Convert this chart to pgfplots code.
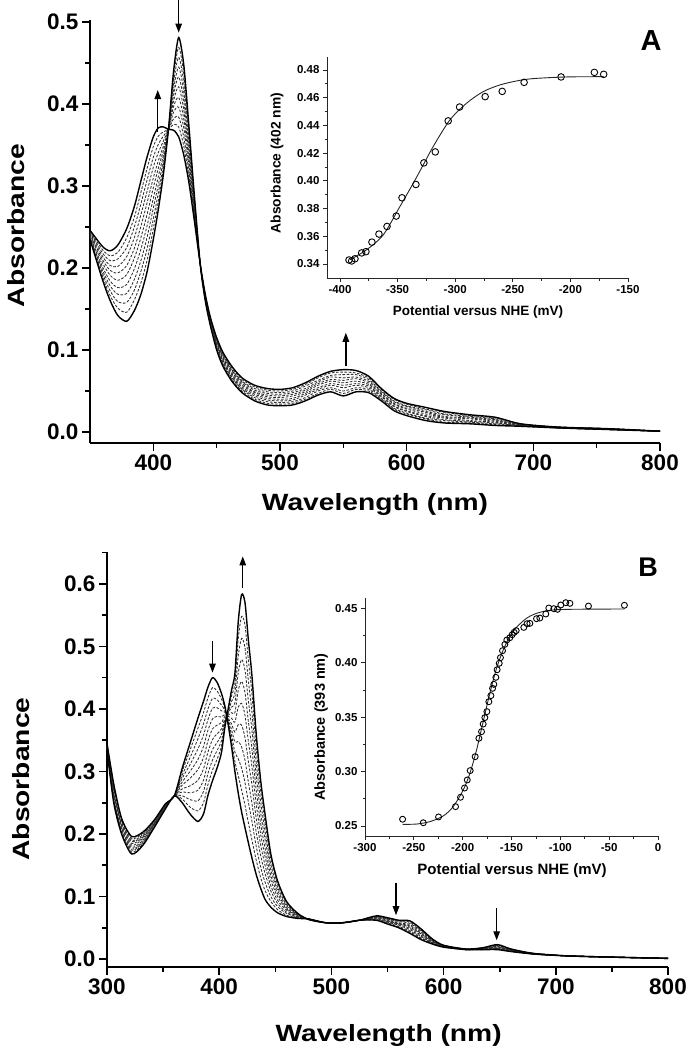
\documentclass[border=0pt]{standalone}
\usepackage{fontspec}
\setmainfont{Liberation Sans}
\newfontfamily\labfont[FakeStretch=1.2]{Liberation Sans}
\usepackage{pgfplots}
\pgfplotsset{compat=1.18}
\usepackage{pgfplotstable}
\usetikzlibrary{arrows.meta}

\pgfplotstableread{
w c0 c1 c2 c3 c4 c5 c6 c7 c8 c9 c10
350 0.235 0.236 0.237 0.238 0.239 0.241 0.242 0.243 0.244 0.245 0.246
360 0.185 0.189 0.193 0.197 0.201 0.206 0.210 0.214 0.218 0.222 0.226
366 0.160 0.166 0.172 0.178 0.184 0.191 0.197 0.203 0.209 0.215 0.221
372 0.142 0.151 0.159 0.168 0.176 0.185 0.194 0.202 0.211 0.219 0.228
379 0.135 0.146 0.158 0.169 0.180 0.192 0.203 0.214 0.225 0.237 0.248
385 0.148 0.161 0.173 0.186 0.199 0.212 0.224 0.237 0.250 0.262 0.275
390 0.167 0.181 0.195 0.208 0.222 0.236 0.250 0.264 0.277 0.291 0.305
395 0.195 0.209 0.223 0.237 0.251 0.265 0.279 0.293 0.307 0.321 0.335
400 0.235 0.248 0.260 0.273 0.285 0.298 0.310 0.323 0.335 0.348 0.360
404 0.272 0.282 0.292 0.302 0.312 0.322 0.331 0.341 0.351 0.361 0.371
408 0.315 0.321 0.326 0.332 0.338 0.344 0.349 0.355 0.361 0.366 0.372
412 0.370 0.370 0.370 0.370 0.370 0.369 0.369 0.369 0.369 0.369 0.369
416 0.440 0.433 0.426 0.418 0.411 0.404 0.397 0.390 0.382 0.375 0.368
420 0.481 0.469 0.457 0.445 0.433 0.421 0.408 0.396 0.384 0.372 0.360
424 0.448 0.437 0.426 0.415 0.404 0.393 0.382 0.371 0.360 0.349 0.338
428 0.375 0.368 0.361 0.354 0.347 0.340 0.333 0.326 0.319 0.312 0.305
432 0.296 0.293 0.289 0.286 0.282 0.279 0.276 0.272 0.269 0.265 0.262
437 0.205 0.205 0.205 0.205 0.205 0.205 0.205 0.205 0.205 0.205 0.205
441 0.160 0.161 0.162 0.162 0.163 0.164 0.165 0.166 0.166 0.167 0.168
445 0.130 0.131 0.132 0.133 0.134 0.135 0.136 0.137 0.138 0.139 0.140
450 0.100 0.102 0.103 0.105 0.106 0.108 0.109 0.111 0.112 0.114 0.115
455 0.080 0.082 0.083 0.085 0.087 0.089 0.090 0.092 0.094 0.095 0.097
462 0.062 0.064 0.066 0.067 0.069 0.071 0.073 0.075 0.076 0.078 0.080
470 0.048 0.050 0.052 0.053 0.055 0.057 0.059 0.061 0.062 0.064 0.066
480 0.038 0.040 0.042 0.044 0.046 0.048 0.049 0.051 0.053 0.055 0.057
490 0.033 0.035 0.037 0.039 0.041 0.043 0.045 0.047 0.049 0.051 0.053
500 0.032 0.034 0.036 0.038 0.040 0.042 0.044 0.046 0.048 0.050 0.052
510 0.033 0.035 0.037 0.039 0.041 0.044 0.046 0.048 0.050 0.052 0.054
520 0.038 0.040 0.042 0.045 0.047 0.049 0.051 0.053 0.056 0.058 0.060
530 0.045 0.047 0.050 0.052 0.054 0.057 0.059 0.061 0.063 0.066 0.068
540 0.049 0.052 0.054 0.057 0.059 0.062 0.064 0.067 0.069 0.072 0.074
550 0.044 0.047 0.050 0.054 0.057 0.060 0.063 0.066 0.070 0.073 0.076
560 0.049 0.052 0.054 0.057 0.059 0.062 0.065 0.067 0.070 0.072 0.075
570 0.048 0.050 0.052 0.054 0.056 0.058 0.060 0.062 0.064 0.066 0.068
580 0.038 0.040 0.041 0.043 0.044 0.046 0.047 0.049 0.050 0.052 0.053
590 0.026 0.028 0.029 0.031 0.032 0.034 0.035 0.037 0.038 0.040 0.041
600 0.020 0.022 0.023 0.025 0.026 0.028 0.029 0.031 0.032 0.034 0.035
615 0.014 0.016 0.017 0.019 0.020 0.022 0.024 0.025 0.027 0.028 0.030
630 0.011 0.012 0.014 0.015 0.017 0.018 0.019 0.021 0.022 0.024 0.025
650 0.010 0.011 0.012 0.013 0.014 0.016 0.017 0.018 0.019 0.020 0.021
670 0.008 0.009 0.010 0.011 0.012 0.013 0.014 0.015 0.016 0.017 0.018
690 0.007 0.007 0.008 0.008 0.008 0.009 0.009 0.009 0.009 0.010 0.010
720 0.005 0.005 0.005 0.005 0.005 0.005 0.006 0.006 0.006 0.006 0.006
760 0.003 0.003 0.003 0.003 0.003 0.003 0.004 0.004 0.004 0.004 0.004
800 0.001 0.001 0.001 0.001 0.001 0.001 0.001 0.001 0.001 0.001 0.001
}\tabA

\pgfplotstableread{
w c0 c1 c2 c3 c4 c5 c6 c7 c8 c9 c10
300 0.335 0.336 0.337 0.338 0.339 0.340 0.341 0.342 0.343 0.344 0.345
306 0.250 0.253 0.256 0.259 0.262 0.265 0.268 0.271 0.274 0.277 0.280
313 0.200 0.203 0.205 0.208 0.210 0.213 0.215 0.218 0.220 0.223 0.225
322 0.168 0.171 0.174 0.176 0.179 0.182 0.185 0.188 0.190 0.193 0.196
332 0.182 0.184 0.186 0.188 0.190 0.193 0.195 0.197 0.199 0.201 0.203
342 0.210 0.211 0.212 0.214 0.215 0.216 0.217 0.218 0.220 0.221 0.222
352 0.240 0.241 0.242 0.242 0.243 0.244 0.245 0.246 0.246 0.247 0.248
360 0.261 0.261 0.261 0.261 0.261 0.261 0.261 0.261 0.261 0.261 0.261
367 0.250 0.256 0.261 0.267 0.272 0.278 0.283 0.289 0.294 0.300 0.305
374 0.232 0.243 0.255 0.266 0.277 0.289 0.300 0.311 0.322 0.334 0.345
381 0.220 0.237 0.253 0.270 0.286 0.303 0.319 0.336 0.352 0.369 0.385
386 0.232 0.250 0.268 0.286 0.304 0.322 0.340 0.358 0.376 0.394 0.412
390 0.262 0.279 0.297 0.314 0.331 0.349 0.366 0.383 0.400 0.418 0.435
394 0.285 0.302 0.318 0.335 0.351 0.368 0.384 0.401 0.417 0.434 0.450
398 0.305 0.319 0.333 0.346 0.360 0.374 0.388 0.402 0.415 0.429 0.443
402 0.330 0.340 0.349 0.359 0.368 0.378 0.387 0.397 0.406 0.416 0.425
405 0.370 0.374 0.377 0.381 0.384 0.388 0.391 0.395 0.398 0.402 0.405
408 0.400 0.398 0.395 0.393 0.390 0.388 0.385 0.383 0.380 0.378 0.375
411 0.430 0.421 0.412 0.403 0.394 0.385 0.376 0.367 0.358 0.349 0.340
414 0.457 0.441 0.426 0.410 0.394 0.379 0.363 0.347 0.331 0.316 0.300
417 0.540 0.513 0.485 0.458 0.430 0.403 0.375 0.348 0.320 0.293 0.265
420 0.583 0.548 0.513 0.479 0.444 0.409 0.374 0.339 0.305 0.270 0.235
423 0.570 0.534 0.498 0.462 0.426 0.390 0.354 0.318 0.282 0.246 0.210
426 0.510 0.478 0.445 0.413 0.380 0.348 0.316 0.283 0.251 0.218 0.186
429 0.457 0.428 0.398 0.369 0.339 0.310 0.281 0.251 0.222 0.192 0.163
433 0.360 0.338 0.315 0.293 0.270 0.248 0.225 0.203 0.180 0.158 0.135
437 0.285 0.268 0.251 0.233 0.216 0.199 0.182 0.165 0.147 0.130 0.113
441 0.230 0.217 0.203 0.190 0.176 0.163 0.149 0.136 0.122 0.109 0.095
446 0.168 0.160 0.151 0.143 0.134 0.126 0.117 0.109 0.100 0.092 0.083
452 0.125 0.120 0.115 0.110 0.105 0.100 0.094 0.089 0.084 0.079 0.074
460 0.092 0.090 0.087 0.085 0.082 0.080 0.078 0.075 0.073 0.070 0.068
470 0.073 0.072 0.071 0.071 0.070 0.069 0.068 0.067 0.067 0.066 0.065
480 0.063 0.063 0.063 0.063 0.063 0.064 0.064 0.064 0.064 0.064 0.064
495 0.058 0.058 0.058 0.058 0.058 0.058 0.058 0.058 0.058 0.058 0.058
510 0.058 0.058 0.058 0.058 0.058 0.058 0.058 0.058 0.058 0.058 0.058
525 0.062 0.062 0.062 0.062 0.062 0.062 0.062 0.062 0.062 0.062 0.062
540 0.062 0.063 0.063 0.064 0.065 0.066 0.066 0.067 0.068 0.068 0.069
550 0.056 0.057 0.058 0.059 0.060 0.061 0.062 0.063 0.064 0.065 0.066
560 0.050 0.051 0.052 0.054 0.055 0.056 0.057 0.058 0.060 0.061 0.062
570 0.041 0.043 0.045 0.047 0.049 0.051 0.053 0.055 0.057 0.059 0.061
580 0.031 0.033 0.034 0.036 0.038 0.040 0.041 0.043 0.045 0.046 0.048
590 0.024 0.025 0.026 0.026 0.027 0.028 0.029 0.030 0.030 0.031 0.032
600 0.019 0.019 0.020 0.020 0.020 0.021 0.021 0.021 0.021 0.022 0.022
620 0.015 0.015 0.015 0.015 0.015 0.015 0.016 0.016 0.016 0.016 0.016
635 0.015 0.015 0.016 0.016 0.016 0.017 0.017 0.017 0.017 0.018 0.018
648 0.015 0.016 0.017 0.017 0.018 0.019 0.020 0.021 0.021 0.022 0.023
660 0.012 0.012 0.013 0.013 0.014 0.014 0.014 0.015 0.015 0.016 0.016
680 0.008 0.008 0.008 0.008 0.008 0.008 0.009 0.009 0.009 0.009 0.009
710 0.005 0.005 0.005 0.005 0.005 0.005 0.005 0.005 0.005 0.005 0.005
750 0.003 0.003 0.003 0.003 0.003 0.003 0.003 0.003 0.003 0.003 0.003
800 0.001 0.001 0.001 0.001 0.001 0.001 0.001 0.001 0.001 0.001 0.001
}\tabB

\tikzset{arr/.style={-{Triangle[length=9pt,width=6.5pt]}, line width=1.3pt, black}}
\pgfplotsset{
  mainax/.style={
    scale only axis, axis x line*=bottom, axis y line*=left,
    tick align=outside, clip=false,
    axis line style={line width=1.8pt, black},
    every tick/.style={black, line width=1.6pt},
    major tick length=8pt, minor tick length=4.5pt,
    tick label style={font=\fontsize{22.5}{25}\selectfont\bfseries},
  },
  inax/.style={
    scale only axis, axis x line*=bottom, axis y line*=left,
    tick align=outside, clip=false,
    axis line style={line width=0.9pt, black!85},
    every tick/.style={black!85, line width=0.8pt},
    major tick length=4pt, minor tick length=2.5pt,
    tick label style={font=\fontsize{11.5}{13}\selectfont\bfseries},
  },
  dashline/.style={black!82, line width=0.85pt, dash pattern=on 2.6pt off 1.6pt, smooth, tension=0.45},
  solidline/.style={black, line width=1.4pt, smooth, tension=0.45},
}

\begin{document}
\begin{tikzpicture}
\useasboundingbox (0pt,0pt) rectangle (693pt,-1052pt);

% ---------------- Panel A main ----------------
\begin{axis}[mainax,
  at={(90pt,-443pt)}, anchor=south west,
  width=570pt, height=423.5pt,
  xmin=350, xmax=800, ymin=-0.0134, ymax=0.503,
  xtick={400,500,600,700,800}, xticklabels={400,500,600,700,800},
  minor xtick={450,550,650,750},
  ytick={0,0.1,0.2,0.3,0.4,0.5}, yticklabels={0.0,0.1,0.2,0.3,0.4,0.5},
  minor ytick={0.05,0.15,0.25,0.35,0.45},
  xlabel={Wavelength (nm)}, ylabel={Absorbance},
  every axis x label/.style={at={(axis description cs:0.5,-0.146)}, anchor=center, font=\labfont\fontsize{23.5}{26}\selectfont\bfseries},
  every axis y label/.style={at={(axis description cs:-0.130,0.513)}, anchor=center, rotate=90, font=\labfont\fontsize{23.5}{26}\selectfont\bfseries},
]
\pgfplotsinvokeforeach{1,...,9}{\addplot[dashline] table[x=w,y=c#1]{\tabA};}
\addplot[solidline] table[x=w,y=c0]{\tabA};
\addplot[solidline] table[x=w,y=c10]{\tabA};
\draw[arr] (axis cs:420,0.527) -- (axis cs:420,0.487);
\draw[arr] (axis cs:403.5,0.366) -- (axis cs:403.5,0.417);
\draw[arr] (axis cs:552,0.080) -- (axis cs:552,0.121);
\end{axis}

% ---------------- Panel A inset ----------------
\begin{axis}[inax,
  at={(327pt,-278pt)}, anchor=south west,
  width=301pt, height=221pt,
  xmin=-411.3, xmax=-150, ymin=0.3299, ymax=0.4894,
  xtick={-400,-350,-300,-250,-200,-150}, xticklabels={-400,-350,-300,-250,-200,-150},
  minor xtick={-375,-325,-275,-225,-175},
  ytick={0.34,0.36,0.38,0.40,0.42,0.44,0.46,0.48},
  yticklabels={0.34,0.36,0.38,0.40,0.42,0.44,0.46,0.48},
  minor ytick={0.35,0.37,0.39,0.41,0.43,0.45,0.47},
  xlabel={Potential versus NHE (mV)}, ylabel={Absorbance (402 nm)},
  every axis x label/.style={at={(axis description cs:0.502,-0.154)}, anchor=center, font=\fontsize{13.5}{15}\selectfont\bfseries},
  every axis y label/.style={at={(axis description cs:-0.166,0.52)}, anchor=center, rotate=90, font=\fontsize{13.8}{15}\selectfont\bfseries},
]
\addplot[black!85, line width=0.9pt, smooth] coordinates {
(-391.3,0.3431) (-376.9,0.3503) (-362.4,0.3611) (-348.0,0.3815) (-336.4,0.3983)
(-327.7,0.4116) (-319.1,0.4248) (-304.6,0.4440) (-290.2,0.4560) (-275.7,0.4644)
(-261.3,0.4692) (-246.8,0.4721) (-232.4,0.4738) (-203.5,0.4750) (-171.1,0.4752)};
\addplot[only marks, mark=o, mark size=3.3pt, mark options={line width=0.9pt, black}] coordinates {
(-392.2,0.3429) (-389.9,0.3422) (-387.0,0.3438) (-381.2,0.3480) (-377.5,0.3489)
(-372.3,0.3558) (-366.2,0.3616) (-359.2,0.3671) (-351.2,0.3746) (-346.2,0.3878)
(-334.1,0.3974) (-327.2,0.4130) (-317.3,0.4209) (-306.1,0.4433) (-296.2,0.4533)
(-274.0,0.4608) (-259.2,0.4646) (-240.2,0.4711) (-208.1,0.4750) (-179.2,0.4783)
(-171.1,0.4769)};
\end{axis}

\node[font=\fontsize{29}{32}\selectfont\bfseries] at (651pt,-41pt) {A};

% ---------------- Panel B main ----------------
\begin{axis}[mainax,
  at={(107pt,-967pt)}, anchor=south west,
  width=561pt, height=415pt,
  xmin=300, xmax=800, ymin=-0.0128, ymax=0.651,
  xtick={300,400,500,600,700,800}, xticklabels={300,400,500,600,700,800},
  minor xtick={350,450,550,650,750},
  ytick={0,0.1,0.2,0.3,0.4,0.5,0.6}, yticklabels={0.0,0.1,0.2,0.3,0.4,0.5,0.6},
  minor ytick={0.05,0.15,0.25,0.35,0.45,0.55,0.65},
  xlabel={Wavelength (nm)}, ylabel={Absorbance},
  every axis x label/.style={at={(axis description cs:0.502,-0.164)}, anchor=center, font=\labfont\fontsize{23.5}{26}\selectfont\bfseries},
  every axis y label/.style={at={(axis description cs:-0.153,0.453)}, anchor=center, rotate=90, font=\labfont\fontsize{23.5}{26}\selectfont\bfseries},
]
\pgfplotsinvokeforeach{1,...,9}{\addplot[dashline] table[x=w,y=c#1]{\tabB};}
\addplot[solidline] table[x=w,y=c0]{\tabB};
\addplot[solidline] table[x=w,y=c10]{\tabB};
\draw[arr] (axis cs:394,0.509) -- (axis cs:394,0.458);
\draw[arr] (axis cs:421,0.594) -- (axis cs:421,0.644);
\draw[arr] (axis cs:557.6,0.122) -- (axis cs:557.6,0.070);
\draw[arr] (axis cs:647.3,0.081) -- (axis cs:647.3,0.030);
\end{axis}

% ---------------- Panel B inset ----------------
\begin{axis}[inax,
  at={(365pt,-836pt)}, anchor=south west,
  width=293pt, height=238pt,
  xmin=-300, xmax=0, ymin=0.2408, ymax=0.4595,
  xtick={-300,-250,-200,-150,-100,-50,0}, xticklabels={-300,-250,-200,-150,-100,-50,0},
  minor xtick={-275,-225,-175,-125,-75,-25},
  ytick={0.25,0.30,0.35,0.40,0.45}, yticklabels={0.25,0.30,0.35,0.40,0.45},
  minor ytick={0.275,0.325,0.375,0.425},
  xlabel={Potential versus NHE (mV)}, ylabel={Absorbance (393 nm)},
  every axis x label/.style={at={(axis description cs:0.502,-0.147)}, anchor=center, font=\fontsize{15}{17}\selectfont\bfseries},
  every axis y label/.style={at={(axis description cs:-0.150,0.458)}, anchor=center, rotate=90, font=\fontsize{14.5}{16}\selectfont\bfseries},
]
\addplot[black!85, line width=0.9pt, smooth] coordinates {
(-261.5,0.2515) (-247.2,0.2518) (-233.5,0.2540) (-219.9,0.2592) (-209.7,0.2678)
(-199.4,0.2831) (-192.6,0.2984) (-185.8,0.3198) (-179.0,0.3459) (-172.2,0.3719)
(-165.3,0.3949) (-158.5,0.4117) (-151.7,0.4240) (-144.9,0.4325) (-134.7,0.4408)
(-124.4,0.4454) (-110.8,0.4482) (-90.4,0.4491) (-34.1,0.4494)};
\addplot[only marks, mark=o, mark size=3pt, mark options={line width=0.9pt, black}] coordinates {
(-261.5,0.2562) (-240.3,0.2530) (-224.7,0.2583) (-207.3,0.2678) (-202.2,0.2764)
(-198.1,0.2849) (-195.3,0.2923) (-192.3,0.3009) (-187.2,0.3137) (-183.4,0.3306)
(-180.7,0.3367) (-179.0,0.3437) (-177.3,0.3496) (-175.2,0.3551) (-173.2,0.3642)
(-171.1,0.3698) (-169.4,0.3765) (-168.1,0.3802) (-166.0,0.3866) (-164.7,0.3936)
(-162.6,0.3995) (-161.3,0.4047) (-159.2,0.4111) (-156.8,0.4169) (-154.8,0.4209)
(-151.7,0.4230) (-149.3,0.4258) (-147.3,0.4279) (-145.2,0.4295) (-137.4,0.4325)
(-134.0,0.4359) (-131.2,0.4362) (-124.4,0.4405) (-121.0,0.4411) (-114.9,0.4448)
(-111.8,0.4503) (-106.7,0.4497) (-102.9,0.4491) (-99.5,0.4531) (-94.4,0.4552)
(-90.2,0.4546) (-71.2,0.4521) (-34.4,0.4528)};
\end{axis}

\node[font=\fontsize{27}{30}\selectfont\bfseries] at (648pt,-567pt) {B};
\end{tikzpicture}
\end{document}
